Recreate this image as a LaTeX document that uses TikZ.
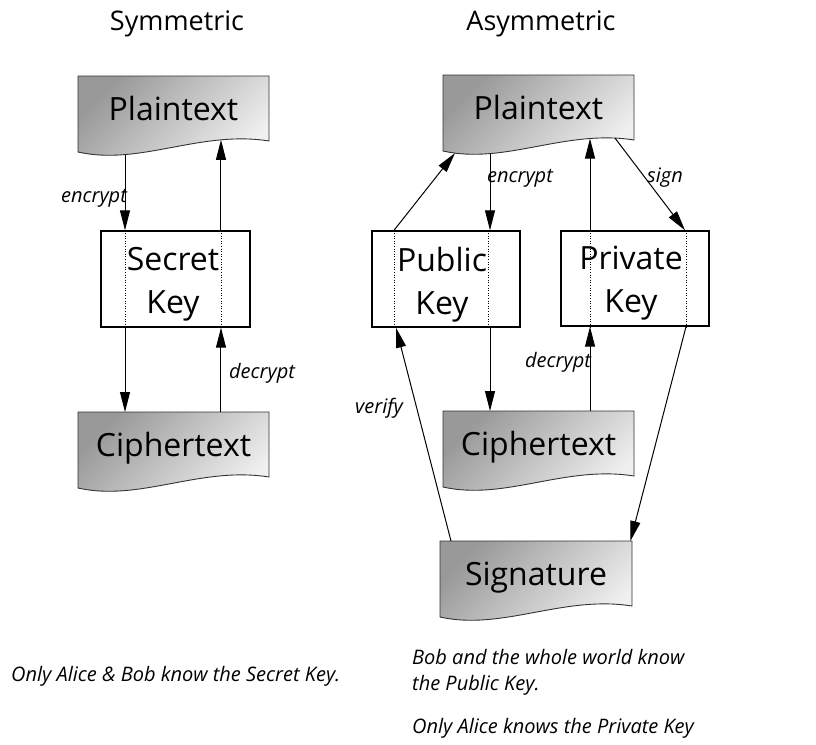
\documentclass[tikz,border=0pt]{standalone}
\usepackage{fontspec}
\setmainfont{Open Sans}
\usetikzlibrary{arrows.meta,intersections,calc}
\definecolor{docdark}{gray}{0.6}
\definecolor{doclight}{gray}{0.94}
\definecolor{docline}{gray}{0.2}
\tikzset{
  docfill/.style={draw=docline, line width=0.9pt, top color=docdark, bottom color=doclight, shading angle=45},
  docbox/.style={inner sep=0pt, anchor=north west, minimum height=66pt},
  doctext/.style={font=\fontsize{32}{36}\selectfont, inner sep=0pt, anchor=base},
  keybox/.style={draw=black, line width=1.4pt, fill=white, inner sep=0pt},
  keytext/.style={font=\fontsize{32}{43}\selectfont, align=center, inner sep=0pt},
  sep/.style={dotted, line width=0.6pt},
  arr/.style={line width=1pt, -{Triangle[length=20pt,width=10pt]}},
  lbl/.style={font=\fontsize{20}{24}\itshape\selectfont, inner sep=0pt},
  note/.style={font=\fontsize{20}{24}\itshape\selectfont, inner sep=0pt, anchor=west},
  ttl/.style={font=\fontsize{27}{31}\selectfont, inner sep=0pt, anchor=base},
}
\newcommand\mydoc[5]{% name, x-left, y-top, width, text
  \path[docfill] (#2,#3) -- (#2+#4,#3) -- (#2+#4,#3+65)
     .. controls (#2+#4-69,#3+54) and (#2+62,#3+90) .. (#2,#3+76) -- cycle;
  \node[docbox, minimum width=#4pt] (#1) at (#2,#3) {};
  \node[doctext] (#1-t) at (#2+#4/2,#3+44) {#5};
  \path[name path=#1-w] (#2,#3+76) .. controls (#2+62,#3+90) and (#2+#4-69,#3+54) .. (#2+#4,#3+65);
}
\newcommand\wavept[3]{% doc, x, coordinate name
  \path[name path=#3-v] (#2,0) -- (#2,744);
  \path[name intersections={of=#1-w and #3-v, by={#3}}];
}
\begin{document}
\begin{tikzpicture}[x=1pt,y=-1pt]
\useasboundingbox (0,0) rectangle (816,744);
% titles
\node[ttl] (t1) at (177,30) {Symmetric};
\node[ttl] (t2) at (541,30) {Asymmetric};
% ---------- symmetric ----------
\mydoc{spt}{78}{76}{191}{Plaintext}
\mydoc{sct}{78}{412}{191}{Ciphertext}
\node[keybox, minimum width=149pt, minimum height=96pt] (sk) at (175.5,279) {};
\draw[sep] ([xshift=-50.5pt]sk.north) -- ([xshift=-50.5pt]sk.south);
\draw[sep] ([xshift=45.5pt]sk.north) -- ([xshift=45.5pt]sk.south);
\node[keytext] (skt) at (173,284.5) {Secret\\Key};
\wavept{spt}{125}{sa}
\wavept{spt}{221}{sb}
\draw[arr] (sa) -- (sa |- sk.north);
\draw[arr] (sa |- sk.south) -- (sa |- sct.north);
\draw[arr] (sb |- sct.north) -- (sb |- sk.south);
\draw[arr] (sb |- sk.north) -- (sb);
\node[lbl] (l1) at (94,198) {encrypt};
\node[lbl] (l2) at (262,373) {decrypt};
% ---------- asymmetric ----------
\mydoc{apt}{443}{75}{191}{Plaintext}
\mydoc{act}{443}{411}{191}{Ciphertext}
\mydoc{sig}{440}{541}{192}{Signature}
\node[keybox, minimum width=148pt, minimum height=96pt] (pk) at (446,279) {};
\draw[sep] ([xshift=-52pt]pk.north) -- ([xshift=-52pt]pk.south);
\draw[sep] ([xshift=42pt]pk.north) -- ([xshift=42pt]pk.south);
\node[keytext] (pkt) at (442,284.5) {Public\\Key};
\node[keybox, minimum width=148pt, minimum height=95pt] (pv) at (635,278.5) {};
\draw[sep] ([xshift=-45pt]pv.north) -- ([xshift=-45pt]pv.south);
\draw[sep] ([xshift=51pt]pv.north) -- ([xshift=51pt]pv.south);
\node[keytext] (pvt) at (631,283.5) {Private\\Key};
\wavept{apt}{455}{aa}
\wavept{apt}{490}{ab}
\wavept{apt}{590}{ac}
\wavept{apt}{615}{ad}
\draw[arr] ([xshift=-52pt]pk.north) -- (aa);
\draw[arr] (ab) -- (ab |- pk.north);
\draw[arr] (ac |- pv.north) -- (ac);
\draw[arr] (ad) -- ([xshift=50pt]pv.north);
\draw[arr] (ab |- pk.south) -- (ab |- act.north);
\draw[arr] (ac |- act.north) -- (ac |- pv.south);
\draw[arr] ([xshift=51pt]pv.south) -- ([xshift=-2pt]sig.north east);
\draw[arr] ([xshift=11pt]sig.north west) -- ([xshift=-50pt]pk.south);
\node[lbl] (l3) at (520,178) {encrypt};
\node[lbl] (l4) at (665,178) {sign};
\node[lbl] (l5) at (558,362) {decrypt};
\node[lbl] (l6) at (379,408) {verify};
% notes
\node[note] (n1) at (11,676) {Only Alice \& Bob know the Secret Key.};
\node[note] (n2) at (412,657) {Bob and the whole world know};
\node[note] (n3) at (412,685) {the Public Key.};
\node[note] (n4) at (412,728) {Only Alice knows the Private Key};
\end{tikzpicture}
\end{document}
